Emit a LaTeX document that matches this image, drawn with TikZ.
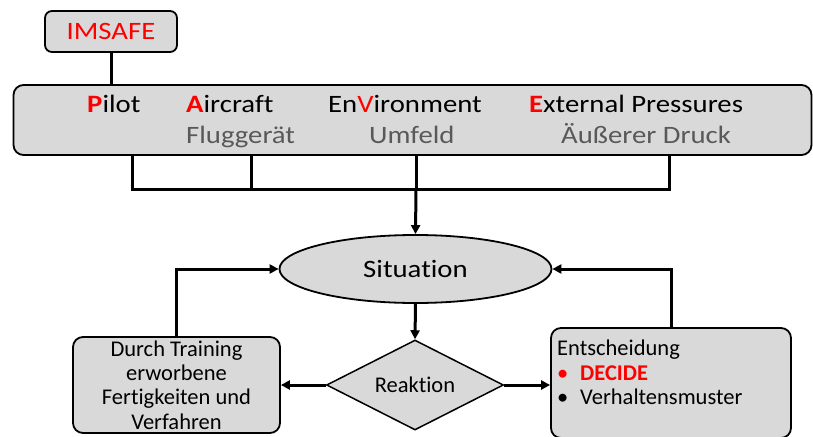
\documentclass[tikz,border=0pt]{standalone}
\usepackage{fontspec}
\setmainfont{Carlito}[Ligatures=NoCommon]
\newfontfamily\widefont{Carlito}[FakeStretch=1.15,Ligatures=NoCommon]
\usetikzlibrary{shapes.geometric,arrows.meta,calc}
\definecolor{boxgray}{HTML}{D9D9D9}
\definecolor{txtgray}{HTML}{595959}
\definecolor{accent}{HTML}{FF0000}
\begin{document}
\begin{tikzpicture}[x=1pt,y=-1pt,
  box/.style={draw=black,line width=1.8pt,fill=boxgray,rounded corners=7pt,inner sep=0pt},
  conn/.style={line width=3pt},
  arr/.style={conn,-{Triangle[length=9pt,width=9pt]}},
  big/.style={font=\widefont\fontsize{25}{29}\selectfont,inner sep=0pt},
  mid/.style={font=\fontsize{22.5}{24.3}\selectfont,inner sep=0pt},
]
\useasboundingbox (0,0) rectangle (813,436);

% top boxes
\node[box, minimum width=132pt, minimum height=41pt, big] (imsafe) at (111,31.5)
  {\color{accent}IMSAFE};
\node[box, rounded corners=10pt, minimum width=798pt, minimum height=70pt] (pave) at (412.5,120) {};
\draw[conn] (imsafe.south) -- (imsafe.south |- pave.north);

\node[big, anchor=base west] (pilot) at (87,112.5) {\textcolor{accent}{\textbf{P}}ilot};
\node[big, anchor=base west] (aircraft) at (186,112.5) {\textcolor{accent}{\textbf{A}}ircraft};
\node[big, anchor=base west] (env) at (328,112.5) {En\textcolor{accent}{V}ironment};
\node[big, anchor=base west] (ext) at (529,112.5) {\textcolor{accent}{\textbf{E}}xternal Pressures};
\node[big, anchor=base west, text=txtgray] (flug) at (186,143.5) {Fluggerät};
\node[big, anchor=base west, text=txtgray] (umf) at (369,143.5) {Umfeld};
\node[big, anchor=base west, text=txtgray] (aeu) at (561,143.5) {Äußerer Druck};

% collector lines
\coordinate (p1) at (132,155);
\coordinate (p2) at (251,155);
\coordinate (p3) at (416,155);
\coordinate (p4) at (669,155);
\coordinate (bar) at (416,189);
\draw[conn] (p1) |- (bar) -| (p4);
\draw[conn] (p2) -- (p2 |- bar);
\draw[conn] (p3) -- (bar);

% situation
\node[ellipse, draw=black, line width=1.8pt, fill=boxgray, minimum width=272pt, minimum height=68pt,
  inner sep=0pt, big] (sit) at (415.5,269) {Situation};
\draw[arr] (bar) -- (sit.north);

% reaction
\node[diamond, aspect=2, draw=black, line width=1.5pt, fill=boxgray, minimum width=177pt, minimum height=90pt,
  inner sep=0pt, mid] (reak) at (415,385) {Reaktion};
\draw[arr] (sit.south) -- (reak.north);

% left box
\node[box, rounded corners=10pt, minimum width=207pt, minimum height=96pt, align=center, mid] (lb) at (176.5,385)
  {Durch Training\\erworbene\\Fertigkeiten und\\Verfahren};

% right box
\node[box, rounded corners=10pt, minimum width=240pt, minimum height=110pt] (rb) at (671,383) {};
\node[mid, anchor=north west, align=left] (ent) at (557,340)
  {Entscheidung\\
   \makebox[23pt][l]{\textcolor{accent}{•}}\textcolor{accent}{\textbf{DECIDE}}\\
   \makebox[23pt][l]{•}Verhaltensmuster};

% arrows
\draw[arr] (reak.west) -- (reak.west -| lb.east);
\draw[arr] (reak.east) -- (reak.east -| rb.west);
\draw[arr] (lb.north) |- (sit.west);
\draw[arr] (rb.north) |- (sit.east);
\end{tikzpicture}
\end{document}
